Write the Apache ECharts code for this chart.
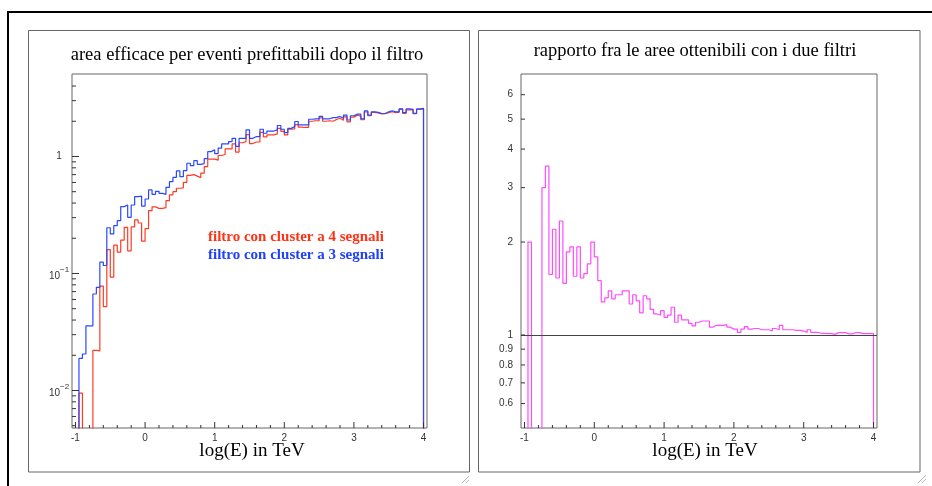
<!DOCTYPE html>
<html>
<head>
<meta charset="utf-8">
<script src="https://cdn.jsdelivr.net/npm/echarts@6/dist/echarts.min.js"></script>
<style>
  html, body { margin: 0; padding: 0; background: #fff; }
  #chart { width: 932px; height: 486px; }
</style>
</head>
<body>
<div id="chart"></div>
<script>
// histogram binning: 100 bins from -1 to 4 in log(E/TeV)
const binLow = -1
const binWidth = 0.05

// area, cluster filter with 4 signals (red)
const area4 = [
  0, 0.0095, 0, 0, 0, 0.022, 0.0218, 0.078, 0.052, 0.16,
  0.093, 0.175, 0.152, 0.193, 0.248, 0.156, 0.25, 0.287, 0.27, 0.189,
  0.242, 0.345, 0.371, 0.36, 0.36, 0.365, 0.42, 0.47, 0.50, 0.535,
  0.54, 0.60, 0.69, 0.70, 0.68, 0.66, 0.72, 0.82, 0.95, 0.95,
  0.93, 1.02, 1.04, 1.16, 1.16, 1.28, 1.09, 1.31, 1.34, 1.54,
  1.29, 1.33, 1.33, 1.61, 1.47, 1.53, 1.53, 1.56, 1.74, 1.64,
  1.53, 1.71, 1.72, 1.87, 1.78, 1.77, 1.77, 2.00, 2.02, 2.02,
  2.14, 2.00, 2.02, 2.00, 2.07, 2.12, 2.04, 2.18, 1.98, 2.17,
  2.25, 2.21, 2.06, 2.40, 2.23, 2.38, 2.36, 2.31, 2.32, 2.37,
  2.41, 2.37, 2.39, 2.53, 2.33, 2.50, 2.50, 2.32, 2.52, 2.55
]

// area, cluster filter with 3 signals (blue)
const area3 = [
  0, 0.0188, 0.0205, 0.0356, 0.0356, 0.0668, 0.0762, 0.125, 0.117, 0.246,
  0.218, 0.256, 0.283, 0.373, 0.385, 0.302, 0.385, 0.454, 0.459, 0.377,
  0.433, 0.518, 0.475, 0.504, 0.484, 0.475, 0.545, 0.609, 0.664, 0.752,
  0.672, 0.757, 0.875, 0.834, 0.921, 0.857, 0.87, 0.96, 1.10, 1.14,
  1.06, 1.18, 1.28, 1.28, 1.34, 1.43, 1.22, 1.43, 1.43, 1.69,
  1.43, 1.48, 1.48, 1.71, 1.58, 1.65, 1.65, 1.69, 1.84, 1.71,
  1.60, 1.74, 1.80, 1.99, 1.86, 1.86, 1.86, 2.08, 2.10, 2.10,
  2.20, 2.10, 2.10, 2.15, 2.15, 2.20, 2.12, 2.26, 2.05, 2.23,
  2.30, 2.30, 2.10, 2.45, 2.26, 2.41, 2.38, 2.33, 2.33, 2.41,
  2.45, 2.41, 2.41, 2.55, 2.37, 2.55, 2.53, 2.34, 2.55, 2.58
]

// ratio between the two areas (magenta)
const ratio = [
  0, 2.0, 0, 0, 0, 3.0, 3.52, 1.57, 2.20, 1.53,
  2.34, 1.47, 1.86, 1.93, 1.55, 1.93, 1.53, 1.58, 1.70, 2.00,
  1.79, 1.50, 1.28, 1.32, 1.39, 1.31, 1.35, 1.35, 1.39, 1.39,
  1.26, 1.35, 1.29, 1.18, 1.34, 1.31, 1.21, 1.17, 1.16, 1.20,
  1.14, 1.16, 1.23, 1.10, 1.16, 1.12, 1.12, 1.09, 1.07, 1.10,
  1.11, 1.11, 1.11, 1.06, 1.075, 1.075, 1.075, 1.08, 1.06, 1.045,
  1.045, 1.02, 1.045, 1.065, 1.045, 1.05, 1.05, 1.04, 1.04, 1.04,
  1.03, 1.05, 1.04, 1.075, 1.04, 1.04, 1.04, 1.035, 1.035, 1.03,
  1.02, 1.04, 1.02, 1.02, 1.013, 1.013, 1.01, 1.01, 1.005, 1.018,
  1.018, 1.018, 1.008, 1.008, 1.018, 1.018, 1.01, 1.01, 1.01, 1.01
]

// tick marks
const xMajorTicks = [-1, 0, 1, 2, 3, 4]
const xMinorTicks = [-0.8, -0.6, -0.4, -0.2, 0.2, 0.4, 0.6, 0.8, 1.2, 1.4, 1.6, 1.8,
  2.2, 2.4, 2.6, 2.8, 3.2, 3.4, 3.6, 3.8]
const leftMajorTicks = [0.01, 0.1, 1]
const leftMinorTicks = [0.005, 0.006, 0.007, 0.008, 0.009,
  0.02, 0.03, 0.04, 0.05, 0.06, 0.07, 0.08, 0.09,
  0.2, 0.3, 0.4, 0.5, 0.6, 0.7, 0.8, 0.9, 2, 3, 4]
const rightTicks = [0.6, 0.7, 0.8, 0.9, 1, 2, 3, 4, 5, 6]
const rightTickLabels = ['0.6', '0.7', '0.8', '0.9', '1', '2', '3', '4', '5', '6']

const X_MIN = -1.05, X_MAX = 4.05
const L_MIN = 0.00478, L_MAX = 5.07
const R_MIN = 0.5, R_MAX = 7
const FLOOR = 1e-6

const histPoints = (vals) => {
  const pts = [[binLow, FLOOR]]
  vals.forEach((v, i) => pts.push([binLow + i * binWidth, v > 0 ? v : FLOOR]))
  const end = binLow + vals.length * binWidth
  const last = vals[vals.length - 1]
  pts.push([end, last > 0 ? last : FLOOR])
  pts.push([end, FLOOR])
  return pts
}

const tickList = (vals, axis, len) => vals.map(v => ({ v, axis, len }))

const tickSeries = (gi, ticks, yMin) => ({
  type: 'custom',
  xAxisIndex: gi,
  yAxisIndex: gi,
  silent: true,
  z: 5,
  data: ticks.map(() => [1, 1]),
  renderItem: (params, api) => {
    const t = ticks[params.dataIndex]
    if (t.axis === 'x') {
      const p = api.coord([t.v, yMin])
      return {
        type: 'line',
        shape: { x1: p[0], y1: p[1], x2: p[0], y2: p[1] - t.len },
        style: { stroke: '#333', lineWidth: 1 }
      }
    }
    const p = api.coord([X_MIN, t.v])
    return {
      type: 'line',
      shape: { x1: p[0], y1: p[1], x2: p[0] + t.len, y2: p[1] },
      style: { stroke: '#333', lineWidth: 1 }
    }
  }
})

const xAxisCfg = (gi) => ({
  type: 'value',
  gridIndex: gi,
  min: X_MIN,
  max: X_MAX,
  axisLine: { show: false },
  axisTick: { show: false },
  splitLine: { show: false },
  axisLabel: {
    color: '#333',
    fontSize: 10,
    fontFamily: 'Liberation Sans',
    margin: 5,
    formatter: (v) => Math.abs(v - Math.round(v)) < 1e-6 ? String(Math.round(v)) : ''
  }
})

const serif = 'Liberation Serif'

const chart = echarts.init(document.getElementById('chart'))

const option = {
  animation: false,
  backgroundColor: '#fff',
  grid: [
    { left: 72, top: 74, width: 355, height: 354, show: true, borderColor: '#666', borderWidth: 1, backgroundColor: 'transparent' },
    { left: 521, top: 74, width: 356, height: 354, show: true, borderColor: '#666', borderWidth: 1, backgroundColor: 'transparent' }
  ],
  xAxis: [xAxisCfg(0), xAxisCfg(1)],
  yAxis: [
    {
      type: 'log',
      logBase: 10,
      gridIndex: 0,
      min: L_MIN,
      max: L_MAX,
      axisLine: { show: false },
      axisTick: { show: false },
      splitLine: { show: false },
      axisLabel: {
        align: 'center',
        margin: 13,
        color: '#333',
        fontFamily: 'Liberation Sans',
        fontSize: 10,
        formatter: (v) => {
          const e = Math.log10(v)
          if (Math.abs(e - Math.round(e)) > 1e-6) return ''
          const n = Math.round(e)
          return n === 0 ? '1' : '{b|10}{s|' + n.toString().replace('-', '\u2212') + '}'
        },
        rich: {
          b: { fontSize: 10, fontFamily: 'Liberation Sans', color: '#333', verticalAlign: 'bottom' },
          s: { fontSize: 8, fontFamily: 'Liberation Sans', color: '#333', padding: [0, 0, 7, 0], verticalAlign: 'bottom' }
        }
      }
    },
    {
      type: 'log',
      logBase: 10,
      gridIndex: 1,
      min: R_MIN,
      max: R_MAX,
      axisLine: { show: false },
      axisTick: { show: false },
      splitLine: { show: false },
      axisLabel: { show: false }
    }
  ],
  series: [
    {
      name: 'filtro con cluster a 4 segnali',
      type: 'line',
      xAxisIndex: 0,
      yAxisIndex: 0,
      step: 'end',
      symbol: 'none',
      clip: true,
      lineStyle: { color: '#ff3b24', width: 1.2 },
      data: histPoints(area4)
    },
    {
      name: 'filtro con cluster a 3 segnali',
      type: 'line',
      xAxisIndex: 0,
      yAxisIndex: 0,
      step: 'end',
      symbol: 'none',
      clip: true,
      lineStyle: { color: '#2a48ff', width: 1.2 },
      data: histPoints(area3)
    },
    {
      name: 'rapporto',
      type: 'line',
      xAxisIndex: 1,
      yAxisIndex: 1,
      step: 'end',
      symbol: 'none',
      clip: true,
      lineStyle: { color: '#ff4cff', width: 1.2 },
      data: histPoints(ratio),
      markLine: {
        silent: true,
        symbol: 'none',
        label: { show: false },
        lineStyle: { color: '#444', type: 'solid', width: 1 },
        data: [{ yAxis: 1 }]
      }
    },
    tickSeries(0, [
      ...tickList(xMajorTicks, 'x', 6),
      ...tickList(xMinorTicks, 'x', 3),
      ...tickList(leftMajorTicks, 'y', 7),
      ...tickList(leftMinorTicks, 'y', 4)
    ], L_MIN),
    tickSeries(1, [
      ...tickList(xMajorTicks, 'x', 6),
      ...tickList(xMinorTicks, 'x', 3),
      ...tickList(rightTicks, 'y', 4)
    ], R_MIN),
    {
      type: 'custom',
      xAxisIndex: 1,
      yAxisIndex: 1,
      silent: true,
      data: rightTicks.map(() => [1, 1]),
      renderItem: (params, api) => {
        const p = api.coord([X_MIN, rightTicks[params.dataIndex]])
        return {
          type: 'text',
          x: p[0] - 8,
          y: p[1],
          style: {
            text: rightTickLabels[params.dataIndex],
            fill: '#333',
            font: '10px "Liberation Sans"',
            align: 'right',
            verticalAlign: 'middle'
          }
        }
      }
    }
  ],
  graphic: [
    // page frame
    { type: 'line', shape: { x1: 8, y1: 12, x2: 932, y2: 12 }, style: { stroke: '#000', lineWidth: 2 } },
    { type: 'line', shape: { x1: 8, y1: 11, x2: 8, y2: 486 }, style: { stroke: '#000', lineWidth: 2 } },
    // pads
    { type: 'rect', shape: { x: 28.5, y: 30.5, width: 441, height: 441.5 }, style: { fill: 'none', stroke: '#666', lineWidth: 1 } },
    { type: 'rect', shape: { x: 478.5, y: 30.5, width: 441.5, height: 441.5 }, style: { fill: 'none', stroke: '#666', lineWidth: 1 } },
    // resize grips
    { type: 'line', shape: { x1: 462, y1: 483, x2: 469, y2: 476 }, style: { stroke: '#bbb', lineWidth: 1 } },
    { type: 'line', shape: { x1: 466, y1: 483, x2: 469, y2: 480 }, style: { stroke: '#bbb', lineWidth: 1 } },
    { type: 'line', shape: { x1: 918, y1: 483, x2: 926, y2: 475 }, style: { stroke: '#bbb', lineWidth: 1 } },
    { type: 'line', shape: { x1: 922, y1: 483, x2: 926, y2: 479 }, style: { stroke: '#bbb', lineWidth: 1 } },
    // titles
    { type: 'text', x: 247, y: 55, style: { text: 'area efficace per eventi prefittabili dopo il filtro', font: '18.5px "' + serif + '"', fill: '#000', align: 'center', verticalAlign: 'middle' } },
    { type: 'text', x: 695, y: 51, style: { text: 'rapporto fra le aree ottenibili con i due filtri', font: '18.5px "' + serif + '"', fill: '#000', align: 'center', verticalAlign: 'middle' } },
    // axis titles
    { type: 'text', x: 252, y: 451, style: { text: 'log(E) in TeV', font: '19px "' + serif + '"', fill: '#000', align: 'center', verticalAlign: 'middle' } },
    { type: 'text', x: 705, y: 451, style: { text: 'log(E) in TeV', font: '19px "' + serif + '"', fill: '#000', align: 'center', verticalAlign: 'middle' } },
    // legend texts
    { type: 'text', x: 208, y: 237, style: { text: 'filtro con cluster a 4 segnali', font: 'bold 15px "' + serif + '"', fill: '#ff3216', align: 'left', verticalAlign: 'middle' } },
    { type: 'text', x: 208, y: 255, style: { text: 'filtro con cluster a 3 segnali', font: 'bold 15px "' + serif + '"', fill: '#1e40ff', align: 'left', verticalAlign: 'middle' } }
  ]
}

chart.setOption(option)

window.addEventListener('resize', () => {
  chart?.resize()
})
</script>
</body>
</html>
